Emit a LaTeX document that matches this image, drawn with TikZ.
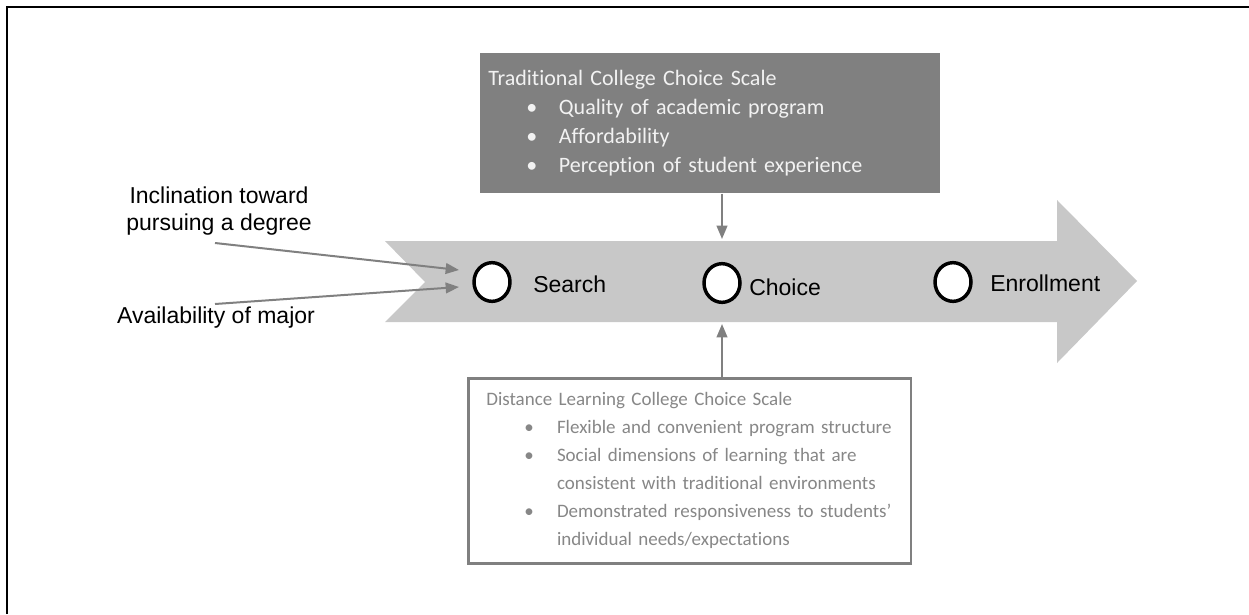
\documentclass[tikz,border=0pt]{standalone}
\usepackage{fontspec}
\setmainfont{Carlito}[RawFeature=-liga]
\newfontfamily\labelfont{Liberation Sans}
\usetikzlibrary{arrows.meta,shapes.geometric}

\definecolor{bandgray}{RGB}{200,200,200}
\definecolor{boxgray}{RGB}{128,128,128}
\definecolor{linegray}{RGB}{128,128,128}
\definecolor{paletext}{RGB}{242,242,242}
\definecolor{softtext}{RGB}{135,135,135}

% bullet line and continuation line inside the scale boxes
\newcommand{\bitem}{\hspace*{28.5pt}\makebox[24.5pt][l]{\textbullet}}
\newcommand{\bcont}{\hspace*{53pt}}

\tikzset{
  stage/.style={ellipse, draw=black, line width=2.6pt, fill=white,
    minimum width=27pt, minimum height=29pt, inner sep=0pt},
  lbl/.style={font=\labelfont\fontsize{17.25pt}{20pt}\selectfont, inner sep=0pt},
  scalebox/.style={anchor=north west, align=left, inner ysep=0pt},
  feed/.style={draw=linegray, line width=1.5pt, -{Triangle[length=10pt,width=8pt]}}
}

\begin{document}
\hyphenpenalty=10000
\begin{tikzpicture}[x=0.75pt, y=-0.75pt]
\useasboundingbox (0,0) rectangle (1249,614);

% frame
\draw[line width=0.9pt] (7,614) -- (7,7) -- (1249,7);

% big process arrow
\fill[bandgray] (385,241) -- (1057,241) -- (1057,200) -- (1137,281)
  -- (1057,363) -- (1057,322) -- (385,322) -- (425,282) -- cycle;

% stages
\node[stage] (search) at (492,282) {};
\node[stage] (choice) at (722,283) {};
\node[stage] (enroll) at (953,282) {};
\node[lbl, anchor=west] (searchtxt) at (533,284) {Search};
\node[lbl, anchor=west] (choicetxt) at (749,287) {Choice};
\node[lbl, anchor=west] (enrolltxt) at (990,283) {Enrollment};

% scale boxes
\node[scalebox, fill=boxgray, text=paletext, inner xsep=6pt, text width=333pt,
  minimum width=345pt, minimum height=105pt,
  font=\fontsize{16.5pt}{21.75pt}\selectfont] (trad) at (480,53) {%
Traditional College Choice Scale\\
\bitem Quality of academic program\\
\bitem Affordability\\
\bitem Perception of student experience};

\node[scalebox, draw=boxgray, line width=2pt, fill=white, text=softtext,
  inner xsep=13.5pt, text width=305pt, minimum width=332pt, minimum height=138.75pt,
  font=\fontsize{14.25pt}{21pt}\selectfont] (dist) at (467,377) {%
Distance Learning College Choice Scale\\
\bitem Flexible and convenient program structure\\
\bitem Social dimensions of learning that are\\
\bcont consistent with traditional environments\\
\bitem Demonstrated responsiveness to students'\\
\bcont individual needs/expectations};

% inputs on the left
\node[lbl, align=center] (incl) at (219,211) {Inclination toward\\pursuing a degree};
\node[lbl] (avail) at (216,318) {Availability of major};

\coordinate (inclout) at (215,243);
\coordinate (availout) at (215,304);
\coordinate (searchin1) at (459,270);
\coordinate (searchin2) at (459,287);
\coordinate (choicein) at (722,239);
\coordinate (choiceup) at (722,324);

% connectors
\draw[feed] (inclout) -- (searchin1);
\draw[feed] (availout) -- (searchin2);
\draw[feed] (trad.south -| choicein) -- (choicein);
\draw[feed] (dist.north -| choiceup) -- (choiceup);

\end{tikzpicture}
\end{document}
